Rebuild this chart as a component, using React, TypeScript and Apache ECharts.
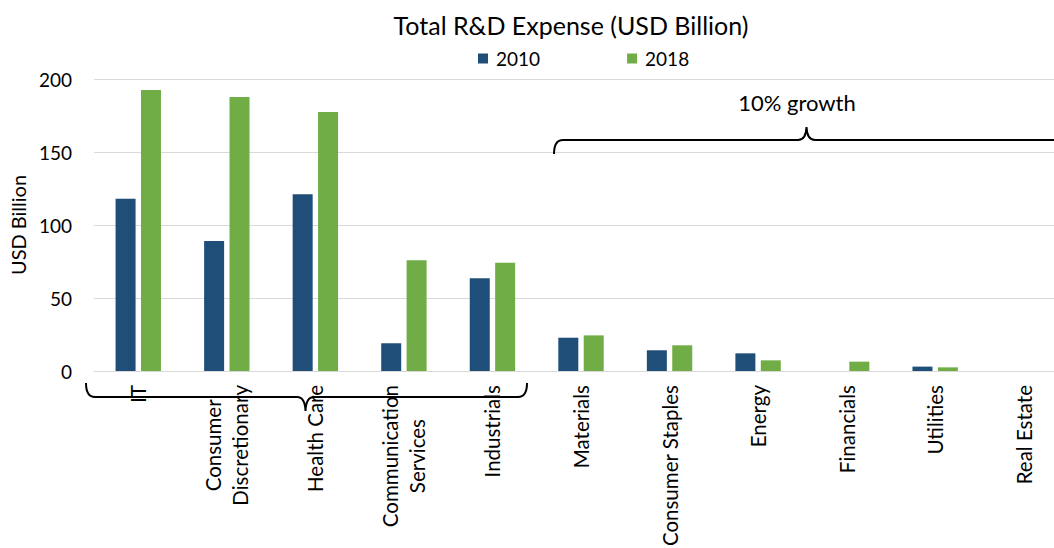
import React, { useEffect, useRef } from "react";
import * as echarts from "echarts";

const categories = [
  "IT",
  "Consumer\nDiscretionary",
  "Health Care",
  "Communication\nServices",
  "Industrials",
  "Materials",
  "Consumer Staples",
  "Energy",
  "Financials",
  "Utilities",
  "Real Estate",
];
const values2010 = [118, 89, 121, 19, 63.5, 22.8, 14.2, 12.1, 0, 3, 0];
const values2018 = [192.5, 187.7, 177.4, 75.8, 74.2, 24.4, 17.6, 7.3, 6.4, 2.5, 0];
const yTicks = [0, 50, 100, 150, 200];

const FONT = "Lato, 'Open Sans', sans-serif";
const LABEL_SIZE = 20.5;

const topBrace =
  "M554,154 Q554,140 563,140 L798,140 Q806,140 806.5,127 Q807,140 815,140 L1060,140";
const bottomBrace =
  "M86,383 Q86,397 95,397 L297,397 Q305,397 305.5,411 Q306,397 314,397 L518,397 Q527,397 527,383";

function buildLabelRich() {
  const canvas = document.createElement("canvas");
  const ctx = canvas.getContext("2d")!;
  ctx.font = `${LABEL_SIZE}px ${FONT}`;
  const rich: Record<string, any> = {};
  const names: Record<string, string[]> = {};
  categories.forEach((cat, ci) => {
    const lines = cat.split("\n");
    const widths = lines.map((l) => ctx.measureText(l).width);
    const maxW = Math.max(...widths);
    names[cat] = lines.map((l, li) => {
      const key = `l${ci}_${li}`;
      rich[key] = {
        fontFamily: FONT,
        fontSize: LABEL_SIZE,
        color: "#000",
        lineHeight: 27,
        padding: [0, (maxW - widths[li]) / 2, 0, 0],
      };
      return key;
    });
  });
  return { rich, names };
}

export default function App() {
  const ref = useRef<HTMLDivElement>(null);
  useEffect(() => {
    if (!ref.current) return;
    echarts.graphic.registerShape("braceTop", echarts.graphic.extendPath(topBrace, {}));
    echarts.graphic.registerShape("braceBottom", echarts.graphic.extendPath(bottomBrace, {}));
    const { rich, names } = buildLabelRich();
    const chart = echarts.init(ref.current, null, { renderer: "svg" });
    chart.setOption({
      animation: false,
      textStyle: { fontFamily: FONT },
      title: {
        text: "Total R&D Expense (USD Billion)",
        left: 566,
        textAlign: "center",
        top: 7,
        textStyle: { fontFamily: FONT, fontSize: 25, fontWeight: "normal", color: "#000" },
      },
      legend: {
        left: 473,
        top: 44,
        itemWidth: 10,
        itemHeight: 10,
        itemGap: 87,
        icon: "rect",
        textStyle: { fontFamily: FONT, fontSize: 19, color: "#000", padding: [0, 0, 0, 3] },
        data: ["2010", "2018"],
      },
      grid: {
        left: 94,
        right: -14,
        top: 79,
        bottom: 177,
        containLabel: false,
        outerBoundsMode: "none",
      },
      xAxis: {
        type: "category",
        data: categories,
        axisLine: { lineStyle: { color: "#d9d9d9", width: 1 } },
        axisTick: { show: false },
        axisLabel: {
          interval: 0,
          rotate: 90,
          margin: 14,
          color: "#000",
          fontFamily: FONT,
          fontSize: LABEL_SIZE,
          formatter: (v: string) =>
            v
              .split("\n")
              .map((l, i) => `{${names[v][i]}|${l}}`)
              .join("\n"),
          rich,
        },
      },
      yAxis: {
        type: "value",
        min: yTicks[0],
        max: yTicks[yTicks.length - 1],
        interval: 50,
        name: "USD Billion",
        nameLocation: "middle",
        nameGap: 62,
        nameTextStyle: { fontFamily: FONT, fontSize: 20, color: "#000" },
        axisLine: { show: false },
        axisTick: { show: false },
        axisLabel: { color: "#000", fontFamily: FONT, fontSize: 19, margin: 22 },
        splitLine: { lineStyle: { color: "#d9d9d9", width: 1 } },
      },
      series: [
        {
          name: "2010",
          type: "bar",
          data: values2010,
          itemStyle: { color: "#1F4E79" },
          barWidth: 20,
          barGap: "27%",
        },
        {
          name: "2018",
          type: "bar",
          data: values2018,
          itemStyle: { color: "#70AD47" },
          barWidth: 20,
          barGap: "27%",
        },
      ],
      graphic: [
        {
          type: "text",
          x: 797,
          y: 102,
          style: {
            text: "10% growth",
            font: `22px ${FONT}`,
            fill: "#000",
            align: "center",
            verticalAlign: "middle",
          },
        },
        {
          type: "braceTop",
          x: 0,
          y: 0,
          style: { fill: "none", stroke: "#000", lineWidth: 2 },
          z: 100,
        },
        {
          type: "braceBottom",
          x: 0,
          y: 0,
          style: { fill: "none", stroke: "#000", lineWidth: 2 },
          z: 100,
        },
      ],
    });
    return () => chart.dispose();
  }, []);
  return (
    <div
      ref={ref}
      style={{ position: "absolute", left: 0, top: 0, width: 1054, height: 548, background: "#fff" }}
    />
  );
}
